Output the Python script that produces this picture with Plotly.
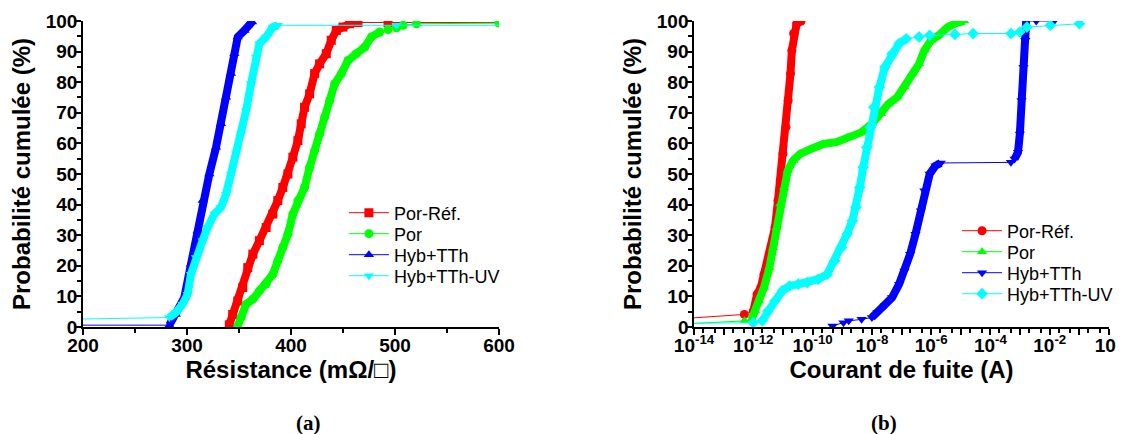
import plotly.graph_objects as go

# ---------------- (a) Resistance ----------------
res_ref_x = [340.7, 343.9, 348.8, 353.6, 358.4, 363.3, 369.6, 376.1, 382.5, 387.3, 392.1, 397.0,
             401.8, 406.6, 409.8, 413.0, 417.9, 422.7, 427.5, 433.9, 438.7, 443.5, 449.9, 456.4,
             464.4, 493.3, 650.0]
res_ref_y = [0.7, 4.1, 8.5, 12.9, 19.4, 23.8, 28.2, 32.5, 36.9, 41.3, 45.6, 50.0,
             55.5, 60.9, 66.4, 71.8, 76.2, 82.8, 86.0, 89.3, 93.7, 96.9, 98.0, 99.1,
             99.5, 99.5, 99.5]

res_por_x = [348.8, 352.0, 356.8, 363.3, 369.6, 376.1, 382.5, 387.3, 392.1, 397.0, 401.8, 406.6,
             413.0, 417.9, 422.7, 427.5, 432.3, 437.2, 442.0, 448.4, 454.8, 462.8, 470.9, 477.3,
             485.3, 493.3, 501.4, 507.8, 520.6, 600.0]
res_por_y = [0.3, 3.1, 7.4, 9.1, 11.8, 14.0, 17.2, 21.6, 26.0, 30.3, 36.9, 41.3,
             45.6, 52.2, 57.6, 63.1, 68.6, 74.0, 79.5, 82.8, 87.1, 89.3, 91.5, 94.8,
             96.4, 97.2, 97.8, 98.6, 99.1, 99.3]

res_hyb_x = [150.0, 283.0, 289.3, 297.4, 303.8, 310.2, 315.0, 321.5, 327.9, 332.7, 337.5, 342.3,
             345.5, 348.8, 355.2, 358.4, 362.6]
res_hyb_y = [0.6, 0.6, 4.1, 9.6, 20.5, 31.4, 41.3, 50.0, 58.7, 66.4, 75.1, 82.8,
             89.3, 94.8, 96.9, 98.6, 99.7]

res_uv_x = [150.0, 283.0, 289.3, 295.7, 300.6, 303.8, 308.6, 315.0, 319.8, 326.3, 332.7, 337.5,
            342.3, 347.2, 352.0, 356.8, 361.6, 366.4, 369.6, 376.1, 382.5, 387.3, 501.4, 650.0]
res_uv_y = [2.3, 3.1, 4.7, 7.4, 10.7, 17.2, 22.7, 28.2, 32.5, 36.9, 39.1, 43.4,
            50.0, 56.6, 63.1, 70.7, 79.5, 88.2, 92.6, 94.8, 98.0, 98.6, 98.6, 98.6]

# ---------------- (b) Leakage current ----------------
cur_ref_x = [5e-15, 5.0e-13, 1.0e-12, 1.35e-12, 1.8e-12, 2.3e-12, 3.2e-12, 4.1e-12, 5.4e-12,
             6.8e-12, 8.1e-12, 1.0e-11, 1.26e-11, 1.5e-11, 1.8e-11, 2.0e-11, 2.3e-11, 2.9e-11, 4.1e-11]
cur_ref_y = [2.8, 4.1, 5.2, 10.7, 12.9, 17.2, 21.6, 26.0, 32.5,
             41.3, 47.8, 56.6, 65.3, 74.0, 82.8, 90.4, 95.9, 99.1, 100.0]

cur_por_x = [5e-15, 5.0e-13, 8.7e-13, 1.15e-12, 1.55e-12, 2.3e-12, 3.5e-12, 4.7e-12, 6.2e-12,
             8.1e-12, 1.1e-11, 1.45e-11, 2.2e-11, 3.8e-11, 8.9e-11, 2.3e-10, 6.3e-10, 1.45e-9,
             4.4e-9, 1.0e-8, 2.0e-8, 3.6e-8, 7.2e-8, 1.26e-7, 2.2e-7, 3.9e-7, 5.9e-7, 1.0e-6,
             1.8e-6, 3.6e-6, 6.3e-6, 1.3e-5]
cur_por_y = [1.0, 2.0, 2.5, 5.2, 8.5, 12.9, 19.4, 26.0, 32.5,
             40.2, 45.6, 51.1, 54.4, 56.6, 58.2, 59.8, 60.4, 62.0,
             63.6, 66.4, 69.7, 72.9, 75.1, 78.4, 82.8, 86.0, 90.4, 93.7,
             95.3, 98.0, 99.1, 100.0]

cur_hyb_x = [4.7e-10, 1.1e-9, 1.66e-9, 4.5e-9, 1.0e-8, 1.55e-8, 2.75e-8, 4.8e-8, 8.3e-8,
             1.26e-7, 1.95e-7, 2.95e-7, 4.5e-7, 5.9e-7, 8.9e-7, 1.4e-6, 2.1e-6,
             4.9e-4, 6.5e-4, 8.5e-4, 9.8e-4, 1.12e-3, 1.3e-3, 1.5e-3, 1.6e-3, 3.5e-3, 1.4e-2]
cur_hyb_y = [0.3, 1.4, 2.0, 2.5, 3.1, 4.7, 6.9, 9.6, 14.0,
             18.3, 23.8, 30.3, 38.0, 44.5, 50.0, 52.7, 53.6,
             53.8, 54.9, 57.1, 63.1, 74.0, 84.9, 93.7, 100.0, 100.0, 100.0]

cur_uv_x = [5e-15, 1.0e-12, 2.0e-12, 3.1e-12, 5.4e-12, 9.5e-12, 1.66e-11, 3.3e-11, 6.6e-11,
            1.55e-10, 3.1e-10, 5.5e-10, 9.5e-10, 1.45e-9, 2.2e-9, 2.9e-9, 3.9e-9, 5.1e-9,
            6.8e-9, 8.9e-9, 1.17e-8, 1.8e-8, 2.75e-8, 4.8e-8, 8.3e-8, 1.45e-7, 3.9e-7, 8.9e-7,
            6.3e-6, 2.6e-5, 4.9e-4, 9.8e-4, 1.7e-3, 1.05e-2, 1.0e-1]
cur_uv_y = [1.2, 1.4, 2.0, 5.2, 8.5, 11.8, 13.4, 14.0, 14.5,
            15.6, 17.2, 21.6, 26.0, 30.3, 34.7, 39.1, 45.6, 52.2,
            58.7, 65.3, 71.8, 78.4, 84.9, 89.3, 92.6, 94.2, 94.8, 95.3,
            95.6, 95.9, 95.9, 96.4, 98.0, 98.6, 99.1]

x_ticks_log = [1e-14, 1e-13, 1e-12, 1e-11, 1e-10, 1e-9, 1e-8, 1e-7, 1e-6, 1e-5, 1e-4, 1e-3, 1e-2, 1e-1, 1e0]
x_ticktext_log = ["10<sup>-14</sup>", "", "10<sup>-12</sup>", "", "10<sup>-10</sup>", "", "10<sup>-8</sup>", "",
                  "10<sup>-6</sup>", "", "10<sup>-4</sup>", "", "10<sup>-2</sup>", "", "10<sup>0</sup>"]

RED, GREEN, BLUE, CYAN = "#ff0000", "#00ff00", "#0000ff", "#00ffff"
THICK = 8
MSIZE = 9

fig = go.Figure()


def add_series(x, y, name, color, symbol, xa, ya, legend, dense_segments):
    # dense clusters of overlapping markers rendered as a thick band
    bx, by = [], []
    for a, b in dense_segments:
        if bx:
            bx.append(None)
            by.append(None)
        bx += x[a:b]
        by += y[a:b]
    fig.add_trace(go.Scatter(x=bx, y=by, mode="lines", line=dict(color=color, width=THICK),
                             xaxis=xa, yaxis=ya, showlegend=False, hoverinfo="skip"))
    fig.add_trace(go.Scatter(x=x, y=y, mode="lines+markers", name=name,
                             line=dict(color=color, width=1),
                             marker=dict(symbol=symbol, size=MSIZE, color=color),
                             xaxis=xa, yaxis=ya, legend=legend))


add_series(res_ref_x, res_ref_y, "Por-Réf.", RED, "square", "x", "y", "legend", [(0, 24)])
add_series(res_por_x, res_por_y, "Por", GREEN, "circle", "x", "y", "legend2", [(0, 25)])
add_series(res_hyb_x, res_hyb_y, "Hyb+TTh", BLUE, "triangle-up", "x", "y", "legend3", [(1, 17)])
add_series(res_uv_x, res_uv_y, "Hyb+TTh-UV", CYAN, "triangle-down", "x", "y", "legend4", [(1, 22)])

add_series(cur_ref_x, cur_ref_y, "Por-Réf.", RED, "circle", "x2", "y2", "legend5", [(2, 19)])
add_series(cur_por_x, cur_por_y, "Por", GREEN, "triangle-up", "x2", "y2", "legend6", [(2, 32)])
add_series(cur_hyb_x, cur_hyb_y, "Hyb+TTh", BLUE, "triangle-down", "x2", "y2", "legend7", [(4, 17), (18, 25)])
add_series(cur_uv_x, cur_uv_y, "Hyb+TTh-UV", CYAN, "diamond", "x2", "y2", "legend8", [(2, 26)])

tickfont = dict(family="Liberation Sans", size=19, color="black", weight="bold")
titlefont = dict(family="Liberation Sans", size=24, color="black", weight="bold")
common = dict(showline=True, linecolor="black", linewidth=1.5, ticks="outside", ticklen=6,
              tickwidth=1.5, tickcolor="black", showgrid=False, zeroline=False,
              tickfont=tickfont, automargin=False, mirror=False)
minor_common = dict(ticks="outside", ticklen=4, tickcolor="black", tickwidth=1.5)

legend_font = dict(family="Liberation Sans", size=18, color="black")


def leg(x, y):
    return dict(x=x, y=y, xanchor="left", yanchor="middle", bgcolor="rgba(0,0,0,0)",
                font=legend_font, itemwidth=40, borderwidth=0)


fig.update_layout(
    width=1116, height=426,
    margin=dict(l=0, r=0, t=0, b=0),
    paper_bgcolor="white", plot_bgcolor="white",
    xaxis=dict(domain=[0.0672, 0.4400], range=[200, 600], dtick=100, anchor="y",
               minor=dict(dtick=50, **minor_common), ticklabelstandoff=-6,
               title=dict(text="Résistance (mΩ/□)", font=titlefont, standoff=0), **common),
    yaxis=dict(domain=[0.2512, 0.9695], range=[0, 100], dtick=10, anchor="x",
               minor=dict(dtick=5, **minor_common), ticklabelstandoff=-6,
               title=dict(text="Probabilité cumulée (%)", font=titlefont, standoff=8), **common),
    xaxis2=dict(domain=[0.6147, 0.9866], type="log", range=[-14, 0], anchor="y2",
                tickvals=x_ticks_log, ticktext=x_ticktext_log, ticklabelstandoff=-6,
                minor=dict(dtick="D2", **minor_common),
                title=dict(text="Courant de fuite (A)", font=titlefont, standoff=0), **common),
    yaxis2=dict(domain=[0.2512, 0.9695], range=[0, 100], dtick=10, anchor="x2",
                minor=dict(dtick=5, **minor_common), ticklabelstandoff=-6,
                title=dict(text="Probabilité cumulée (%)", font=titlefont, standoff=8), **common),
    legend=leg(0.301, 0.5188),
    legend2=leg(0.301, 0.4695),
    legend3=leg(0.301, 0.4202),
    legend4=leg(0.301, 0.3709),
    legend5=leg(0.8504, 0.4765),
    legend6=leg(0.8504, 0.4272),
    legend7=leg(0.8504, 0.3779),
    legend8=leg(0.8504, 0.3286),
    annotations=[
        dict(text="(a)", x=0.2697, y=0.026, xref="paper", yref="paper", showarrow=False,
             xanchor="center", yanchor="middle",
             font=dict(family="Liberation Serif", size=21, color="black", weight="bold")),
        dict(text="(b)", x=0.785, y=0.026, xref="paper", yref="paper", showarrow=False,
             xanchor="center", yanchor="middle",
             font=dict(family="Liberation Serif", size=21, color="black", weight="bold")),
    ],
)

fig.write_html("out.html")
